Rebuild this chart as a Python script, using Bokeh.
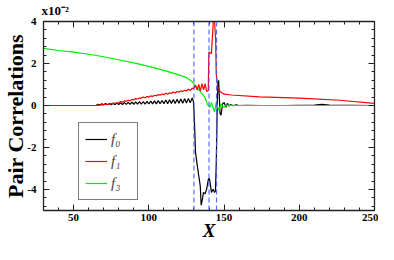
from bokeh.plotting import figure
from bokeh.models import (Range1d, LinearAxis, SingleIntervalTicker, Span, Title,
                          Legend, LegendItem, CustomLabelingPolicy, AllLabels)
from bokeh.embed import file_html
from bokeh.resources import INLINE

# ---- data (values in units of 1e-2) ----
# f0 is hidden under f1 (both zero) for X < 64, so only its visible part is listed
x_f0 = [64, 65,
        66.3, 67.5, 68.8, 70, 71.3, 72.5, 73.8, 75, 76.3, 77.5, 78.8, 80, 81.3, 82.5, 83.8, 85,
        86.3, 87.5, 88.8, 90, 91.3, 92.5, 93.8, 95, 96.3, 97.5, 98.8, 100, 101.3, 102.5, 103.8,
        105, 106.3, 107.5, 108.8, 110, 111.3, 112.5, 113.8, 115, 116.3, 117.5, 118.8, 120,
        121.3, 122.5, 123.8, 125, 126.3, 127.5, 128.8,
        129.6, 130, 130.6, 131, 132.1, 133.1, 134.2, 134.8, 135.7, 136.3, 137.4, 138.4, 139.5,
        140.1, 140.6, 141.6, 142.7, 143.7, 144.3, 144.8, 145.2, 145.5, 146.0, 146.4, 146.9,
        147.3, 148, 149, 150.1, 151.2, 152.2, 153.3, 154.4, 156, 158, 160, 165, 175, 190, 210,
        215, 220, 250]
y_f0 = [0.0, 0.0,
        0.06, 0.02, 0.08, 0.03, 0.09, 0.03, 0.10, 0.04, 0.11, 0.04, 0.12, 0.05, 0.13, 0.05,
        0.14, 0.05, 0.15, 0.06, 0.16, 0.06, 0.17, 0.06, 0.18, 0.07, 0.19, 0.07, 0.20, 0.07,
        0.21, 0.08, 0.22, 0.08, 0.23, 0.08, 0.24, 0.09, 0.26, 0.09, 0.27, 0.10, 0.28, 0.10,
        0.30, 0.11, 0.31, 0.11, 0.32, 0.12, 0.34, 0.13, 0.36,
        0.2, -0.23, -1.28, -2.2, -2.8, -3.3, -3.84, -4.75, -4.44, -4.14, -4.21, -3.99, -3.54,
        -3.46, -3.61, -4.14, -3.99, -4.14, -4.07, -2.79, -1.28, 0.2, 1.05, 1.2, 0.37,
        -0.38, -0.46, 0.07, 0.14, -0.09, 0.1, -0.03, 0.05, -0.01, 0.03, 0.0, 0.01, 0.0, 0.0, 0.02,
        0.05, 0.02, 0.0]

x_f1 = [30, 60, 65, 70, 72.5, 75, 77.5,
        80, 81.3, 82.5, 83.8, 85, 86.3, 87.5, 88.8, 90, 91.3, 92.5, 93.8, 95, 96.3, 97.5, 98.8,
        100, 101.3, 102.5, 103.8, 105, 106.3, 107.5, 108.8, 110, 111.3, 112.5, 113.8, 115,
        116.3, 117.5, 118.8, 120, 121.3, 122.5, 123.8, 125, 126.3, 127.5, 128.8, 130,
        131.1, 132.1, 133.2, 134.2, 135.3, 136.4, 137.4, 138.4, 139.5,
        139.9, 141.6, 142.7, 143.3, 144.0, 144.4, 144.8, 145.8, 147.3,
        150, 155, 173.5, 200, 226.8, 250]
y_f1 = [0, 0, 0.01, 0.04, 0.06, 0.09, 0.11,
        0.13, 0.19, 0.16, 0.22, 0.20, 0.25, 0.23, 0.29, 0.27, 0.33, 0.31, 0.36, 0.34, 0.40,
        0.37, 0.43, 0.40, 0.46, 0.43, 0.49, 0.46, 0.52, 0.49, 0.55, 0.51, 0.58, 0.54, 0.61,
        0.57, 0.64, 0.60, 0.67, 0.63, 0.70, 0.66, 0.73, 0.69, 0.77, 0.72, 0.82, 0.82,
        0.97, 0.74, 1.00, 0.70, 1.04, 0.74, 1.04, 0.67, 0.70,
        2.55, 2.47, 3.8, 4.6, 3.6, 3.2, 1.5, 0.89, 0.67,
        0.54, 0.50, 0.41, 0.35, 0.25, 0.10]

x_f3 = [30, 40, 50, 60, 70, 80, 90, 100, 110, 120, 125, 128, 129.5, 131, 132.5, 134.2, 135.5,
        137.4, 138.9, 140.6, 141.6, 142.7, 143.7, 144.8, 146.5, 148, 150, 152, 160, 200, 250]
y_f3 = [2.72, 2.62, 2.54, 2.44, 2.32, 2.18, 2.03, 1.86, 1.67, 1.46, 1.33, 1.18, 1.08, 0.89,
        0.80, 0.67, 0.55, 0.37, 0.07, -0.09, 0.14, -0.09, -0.31, 0.14, -0.23, 0.07, -0.09,
        0.02, 0.0, 0.0, 0.0]

v_lines = [130, 140, 145]
series_labels = ["f\u2080", "f\u2081", "f\u2083"]
series_colors = ["#000000", "#ff0000", "#00ee00"]
y_tick_labels = {-4: "-4", -2: "-2", 0: "0", 2: "2", 4: "4"}

FONT = "Liberation Serif"

p = figure(width=378, height=244, output_backend="svg", toolbar_location=None,
           x_range=Range1d(30, 250), y_range=Range1d(-5, 4),
           min_border_left=39, min_border_right=2, min_border_top=16, min_border_bottom=34)
p.grid.visible = False
p.outline_line_color = None
p.background_fill_color = "white"


def style_axis(ax, ticker, show_labels):
    ax.ticker = ticker
    ax.axis_line_color = "#222222"
    ax.axis_line_width = 1.3
    ax.major_tick_line_color = "#222222"
    ax.minor_tick_line_color = "#222222"
    ax.major_tick_in = 6
    ax.major_tick_out = 0
    ax.minor_tick_in = 3
    ax.minor_tick_out = 0
    if show_labels:
        ax.major_label_policy = AllLabels()
        ax.major_label_text_font = FONT
        ax.major_label_text_font_style = "bold"
        ax.major_label_text_font_size = "11px"
        ax.major_label_text_color = "black"
        ax.axis_label_text_font = FONT
        ax.axis_label_text_color = "black"
    else:
        ax.major_label_policy = CustomLabelingPolicy(code="return []")
        ax.major_label_text_font_size = "1px"
        ax.major_label_standoff = 0


style_axis(p.xaxis[0], SingleIntervalTicker(interval=50, num_minor_ticks=5), True)
style_axis(p.yaxis[0], SingleIntervalTicker(interval=2, num_minor_ticks=5), True)
p.xaxis[0].major_label_standoff = 3
p.yaxis[0].major_label_standoff = 7
p.yaxis[0].major_label_overrides = y_tick_labels

p.yaxis[0].axis_label = "Pair Correlations"
p.yaxis[0].axis_label_text_font_style = "bold"
p.yaxis[0].axis_label_text_font_size = "22px"
p.yaxis[0].axis_label_standoff = -4

p.xaxis[0].axis_label = "X"
p.xaxis[0].axis_label_text_font_style = "bold italic"
p.xaxis[0].axis_label_text_font_size = "19px"
p.xaxis[0].axis_label_standoff = -4

top_ax = LinearAxis()
right_ax = LinearAxis()
style_axis(top_ax, SingleIntervalTicker(interval=50, num_minor_ticks=5), False)
style_axis(right_ax, SingleIntervalTicker(interval=2, num_minor_ticks=5), False)
p.add_layout(top_ax, "above")
p.add_layout(right_ax, "right")

p.add_layout(Title(text="x10\u207b\u00b2", align="left", offset=-2, standoff=0,
                   text_font=FONT, text_font_style="bold", text_font_size="13px",
                   text_color="black"), "above")

xs_all = [x_f0, x_f1, x_f3]
ys_all = [y_f0, y_f1, y_f3]
renderers = [None, None, None]
for i in (0, 2, 1):   # draw black, then green, then red on top
    renderers[i] = p.line(xs_all[i], ys_all[i], line_color=series_colors[i], line_width=1.2)

for xv in v_lines:
    p.add_layout(Span(location=xv, dimension="height", line_color="#3f55ff",
                      line_dash="5 3", line_width=1.2, line_alpha=0.85))

legend = Legend(items=[LegendItem(label=l, renderers=[r]) for l, r in zip(series_labels, renderers)],
                location=(35, 10), glyph_width=22, glyph_height=20, label_height=20,
                spacing=2, padding=6, margin=0, label_standoff=4,
                border_line_color="black", border_line_width=1,
                label_text_font=FONT, label_text_font_style="italic",
                label_text_font_size="15px", background_fill_alpha=1)
p.add_layout(legend)

open("out.html", "w").write(file_html(p, INLINE))
